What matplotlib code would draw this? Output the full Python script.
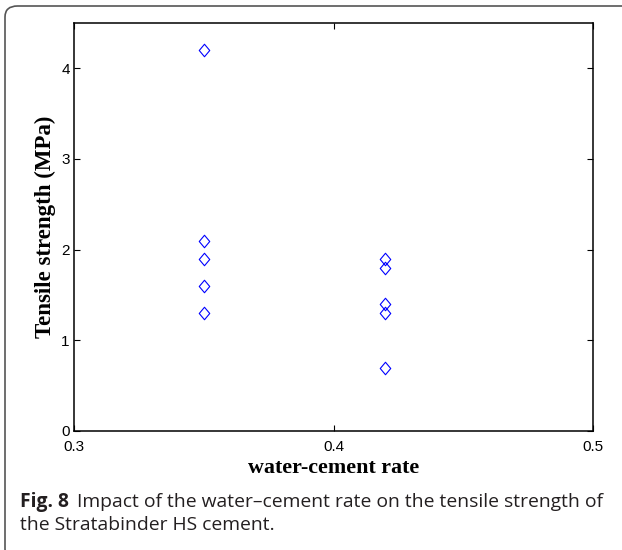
import matplotlib
matplotlib.use("Agg")
import matplotlib.pyplot as plt
from matplotlib.patches import FancyBboxPatch
from matplotlib.path import Path

# Measured tensile strength at two water-cement rates
wc_low = 0.35
strength_low = [4.2, 2.1, 1.9, 1.6, 1.3]
wc_high = 0.42
strength_high = [1.9, 1.8, 1.4, 1.3, 0.7]

x_ticks = [0.3, 0.4, 0.5]
x_tick_labels = ["0.3", "0.4", "0.5"]
y_ticks = [0, 1, 2, 3, 4]
y_tick_labels = ["0", "1", "2", "3", "4"]

W, H = 622, 550
fig = plt.figure(figsize=(W / 100, H / 100), dpi=100)

# panel frame: rounded top-left corner, open on the right/bottom edges
frame = FancyBboxPatch((5 / W, -10 / H), 700 / W, (H - 6 + 10) / H,
                       boxstyle="round,pad=0,rounding_size=0.02",
                       transform=fig.transFigure, facecolor="none",
                       edgecolor="#555555", linewidth=1.2, clip_on=False)
fig.add_artist(frame)

ax = fig.add_axes([74 / W, (H - 431) / H, (593 - 74) / W, (431 - 23) / H])

diamond = Path([(0, 0.5), (0.42, 0), (0, -0.5), (-0.42, 0), (0, 0.5)],
               [Path.MOVETO, Path.LINETO, Path.LINETO, Path.LINETO, Path.CLOSEPOLY])

ax.plot([wc_low] * len(strength_low), strength_low, linestyle="none",
        marker=diamond, markersize=9, markerfacecolor="none",
        markeredgecolor="#0000ff", markeredgewidth=0.8)
ax.plot([wc_high] * len(strength_high), strength_high, linestyle="none",
        marker=diamond, markersize=9, markerfacecolor="none",
        markeredgecolor="#0000ff", markeredgewidth=0.8)

ax.set_xlim(0.3, 0.5)
ax.set_ylim(0, 4.5)
ax.set_xticks(x_ticks)
ax.set_xticklabels(x_tick_labels)
ax.set_yticks(y_ticks)
ax.set_yticklabels(y_tick_labels)
ax.tick_params(direction="in", length=4, width=0.8, top=True, right=True,
               labelsize=11, colors="black")
ax.tick_params(axis="x", pad=6.5)
ax.tick_params(axis="y", pad=3)
for lab in ax.get_xticklabels() + ax.get_yticklabels():
    lab.set_fontfamily("Liberation Sans")
for sp in ax.spines.values():
    sp.set_linewidth(1.1)

ax.set_xlabel("water-cement rate", fontfamily="Liberation Serif",
              fontweight="bold", fontsize=15.8, labelpad=3)
ax.set_ylabel("Tensile strength (MPa)", fontfamily="Liberation Serif",
              fontweight="bold", fontsize=16.5, labelpad=4)

# caption
cap_color = "#231f20"
cap_font = "Open Sans"
cap_size = 13.9
t1 = fig.text(20 / W, 1 - 502 / H, "Fig. 8", fontfamily=cap_font,
              fontweight="bold", fontsize=cap_size, color=cap_color, va="center")
fig.canvas.draw()
bb = t1.get_window_extent()
fig.text(bb.x1 / W + 8 / W, 1 - 502 / H,
         "Impact of the water\u2013cement rate on the tensile strength of",
         fontfamily=cap_font, fontsize=cap_size, color=cap_color, va="center")
fig.text(20 / W, 1 - 525 / H, "the Stratabinder HS cement.",
         fontfamily=cap_font, fontsize=cap_size, color=cap_color, va="center")

fig.savefig("out.png", dpi=100)
